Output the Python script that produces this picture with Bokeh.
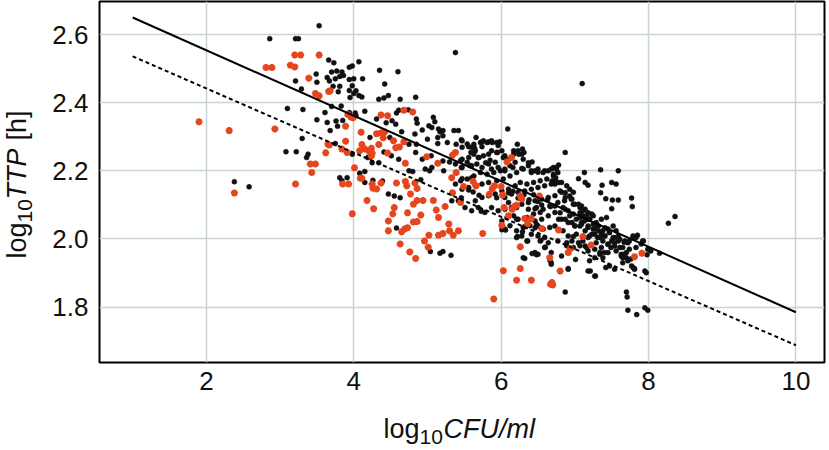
from bokeh.plotting import figure
from bokeh.layouts import row, column
from bokeh.models import Range1d, FixedTicker, Label, ColumnDataSource
from bokeh.embed import file_html
from bokeh.resources import INLINE
import math

# ---------------- data (log10 CFU/ml , log10 TTP [h]) ----------------
black_points = [
    (2.38,2.168),(2.58,2.153),(2.86,2.588),(3.21,2.588),(3.25,2.588),(3.21,2.464),(3.29,2.44),
    (3.10,2.383),(3.31,2.38),(3.30,2.295),(3.08,2.256),(3.22,2.256),(3.53,2.626),(3.66,2.525),
    (3.73,2.517),(4.07,2.52),(3.94,2.504),(3.98,2.508),(4.35,2.495),(4.60,2.491),(3.70,2.49),
    (3.77,2.493),(3.84,2.49),(3.64,2.474),(3.75,2.47),(3.81,2.477),(3.86,2.48),(3.94,2.468),
    (4.00,2.47),(4.12,2.47),(3.49,2.484),(3.50,2.46),(3.67,2.464),(3.72,2.448),(3.81,2.448),
    (3.98,2.45),(4.42,2.455),(4.03,2.435),(3.94,2.436),(3.79,2.432),(3.95,2.415),(4.00,2.427),
    (4.07,2.421),(4.11,2.417),(4.34,2.41),(4.41,2.414),(4.47,2.421),(4.63,2.41),(3.83,2.39),
    (3.70,2.389),(3.61,2.371),(3.94,2.371),(4.02,2.37),(4.03,2.362),(4.15,2.375),(4.31,2.352),
    (4.58,2.37),(4.61,2.378),(4.44,2.341),(4.52,2.347),(4.57,2.337),(4.65,2.315),(3.50,2.35),
    (3.76,2.346),(3.85,2.348),(3.68,2.318),(3.78,2.331),(3.64,2.342),(4.22,2.298),(4.49,2.298),
    (3.75,2.28),(4.41,2.255),(3.38,2.249),(3.36,2.239),(3.81,2.18),(3.84,2.171),(3.91,2.18),
    (4.08,2.193),(4.15,2.198),(4.15,2.166),(4.26,2.172),(4.39,2.17),(4.47,2.132),(4.55,2.126),
    (4.63,2.121),(4.58,2.032),(4.51,2.244),(4.61,2.234),(4.19,2.239),(4.25,2.224),(4.34,2.224),
    (3.98,2.249),
    (5.38,2.547),(4.84,2.416),(4.74,2.379),(4.85,2.352),(4.86,2.34),(5.08,2.357),(5.10,2.344),
    (4.93,2.32),(4.83,2.308),(5.02,2.332),(5.06,2.327),(5.15,2.323),(5.17,2.315),(5.21,2.318),
    (5.36,2.318),(5.42,2.318),(5.14,2.298),(5.21,2.303),(4.75,2.278),(5.00,2.293),(5.14,2.28),
    (5.27,2.283),(5.39,2.278),(5.46,2.291),(5.56,2.271),(5.66,2.298),(5.74,2.285),(5.74,2.271),
    (5.83,2.285),(5.88,2.283),(5.98,2.285),(5.95,2.254),(6.09,2.323),(6.22,2.278),(6.29,2.264),
    (6.31,2.254),(6.17,2.259),(6.24,2.249),(6.37,2.224),(6.42,2.226),(6.05,2.244),(4.85,2.278),
    (5.47,2.269),(5.63,2.278),(5.64,2.266),(4.84,2.254),(4.93,2.234),(5.05,2.244),(5.21,2.229),
    (5.30,2.226),(5.47,2.234),(5.70,2.239),(5.79,2.224),(5.85,2.231),(5.59,2.254),(7.10,2.456),
    (6.87,2.254),(6.78,2.217),
    (4.75,2.2),(4.80,2.198),(4.97,2.205),(5.03,2.2),(5.06,2.21),(5.22,2.2),(5.46,2.21),(5.60,2.215),
    (5.87,2.205),(5.96,2.21),(6.05,2.2),(6.16,2.21),(6.28,2.207),(6.41,2.2),(6.50,2.196),(6.59,2.2),
    (4.91,2.174),(5.47,2.177),(5.60,2.18),(5.56,2.144),(5.62,2.138),(5.70,2.128),(5.46,2.121),
    (5.73,2.081),(6.10,2.136),(6.10,2.107),(6.16,2.14),(6.23,2.12),(6.31,2.13),(6.38,2.115),
    (6.44,2.13),(6.50,2.11),(6.55,2.1),(6.63,2.115),(6.67,2.095),(6.46,2.089),(6.21,2.058),
    (6.32,2.036),(6.46,2.033),(6.50,2.038),(6.29,2.021),(6.22,2.007),(6.36,1.994),(6.50,2.009),
    (6.54,1.996),(6.60,1.976),(6.64,1.989),(6.32,1.943),(6.42,1.957),(6.48,1.954),(6.66,1.938),
    (6.68,1.93),(6.01,2.027),(6.06,2.026),(5.04,1.963),(5.17,1.958),(5.21,1.963),(5.32,1.952),
    (5.94,2.121),
    (7.35,2.203),(7.59,2.2),(7.13,2.195),(7.05,2.177),(7.14,2.166),(7.18,2.158),(7.37,2.158),
    (7.50,2.166),(7.56,2.161),(7.35,2.136),(7.42,2.118),(7.51,2.114),(7.59,2.114),(7.77,2.12),
    (7.78,2.095),(7.50,2.089),(8.27,2.046),(8.36,2.066),(7.85,2.011),(7.93,1.994),(7.79,2.004),
    (7.99,1.97),(7.98,1.954),(8.15,1.958),(7.70,1.96),(7.81,1.913),(7.95,1.906),(7.97,1.901),
    (7.70,1.844),(7.71,1.83),(7.72,1.791),(7.84,1.778),(7.95,1.798),(7.99,1.791),(6.87,1.844),
    (7.28,1.891),(7.21,1.906),(6.91,1.913),(7.01,1.94),(7.42,1.916),(7.63,1.95),(7.65,1.945),
    (6.71,2.21),(6.75,2.205),(6.71,2.19),(6.74,2.18),(6.69,2.17),(6.73,2.161),(6.78,2.166),
    (6.80,2.141),(6.87,2.136),(6.87,2.122),(6.93,2.126),(6.96,2.117),(6.98,2.102),(7.05,2.102),
    (7.09,2.097),(7.14,2.087),(7.18,2.077),(7.23,2.073),(7.25,2.068),(7.07,2.077),(7.11,2.068),
    (7.16,2.058),(7.20,2.058),(7.29,2.048),(7.36,2.058),(7.43,2.063),(7.27,2.029),(7.32,2.024),
    (7.36,2.014),(7.41,2.009),(7.45,2.029),(7.52,2.038),(7.56,2.024),(7.59,2.009),(7.34,2.004),
    (7.38,1.994),(7.29,1.989),(7.14,1.979),(7.18,1.965),(7.27,1.97),(7.34,1.96),(7.36,1.975),
    (7.45,1.984),(7.54,1.989),(7.50,1.994),(7.68,1.994),(7.72,1.989),(7.65,1.975),(7.74,1.97),
    (7.61,1.975),(6.73,2.097),(6.80,2.077),(6.87,2.087),(6.93,2.068),(6.87,2.058),(6.78,2.058),
    (6.73,2.038),(6.84,2.024),(6.91,2.009),(6.98,2.007),(7.02,2.014),(6.96,1.994),(6.89,1.989),
    (7.05,1.989),(7.11,1.994),(7.18,2.004),(7.23,2.014),(7.14,2.024),(7.07,2.038),(7.00,2.038),
    (6.96,2.048),(7.02,2.058),(7.09,2.048),(7.18,2.038),(7.25,2.043),(7.32,2.038),(7.41,2.033),
    (7.47,2.019),(7.52,2.004),(7.59,1.994),(7.54,1.979),(7.45,1.96),(7.38,1.945),(7.47,1.921),
    (7.54,1.911),(7.65,1.93),(7.77,1.921),
    (5.47,2.288),(5.54,2.279),(5.60,2.269),(5.65,2.259),(5.72,2.283),(5.76,2.288),(5.81,2.283),
    (5.87,2.288),(5.94,2.283),(5.96,2.274),(6.01,2.259),(5.94,2.254),(5.87,2.259),(5.83,2.249),
    (5.76,2.244),(5.69,2.239),(5.63,2.249),(5.56,2.239),(5.54,2.225),(5.45,2.230),(5.38,2.220),
    (5.47,2.210),(5.58,2.215),(5.67,2.220),(5.74,2.210),(5.83,2.220),(5.92,2.225),(6.03,2.239),
    (6.10,2.234),(6.17,2.249),(6.23,2.259),(6.28,2.249),(6.30,2.234),(6.19,2.225),(6.12,2.215),
    (6.05,2.205),(5.99,2.200),(5.90,2.195),(5.81,2.190),(5.72,2.195),(5.63,2.185),(5.54,2.176),
    (5.45,2.171),(5.38,2.161),(5.47,2.146),(5.56,2.151),(5.65,2.156),(5.74,2.161),(5.83,2.166),
    (5.94,2.171),(6.03,2.176),(6.12,2.185),(6.21,2.195),(6.30,2.205),(6.37,2.215),(6.41,2.195),
    (6.46,2.200),(6.50,2.205),(6.57,2.195),(6.64,2.200),(6.68,2.205),(6.75,2.210),(6.77,2.195),
    (6.71,2.185),(6.62,2.176),(6.53,2.171),(6.44,2.166),(6.35,2.161),(6.26,2.166),(6.19,2.156),
    (6.10,2.146),(6.01,2.141),(5.92,2.132),(5.83,2.127),(5.74,2.122),(5.65,2.112),(6.05,2.122),
    (6.14,2.132),(6.23,2.137),(6.32,2.141),(6.41,2.146),(6.50,2.151),(6.59,2.156),(6.68,2.161),
    (6.73,2.171),(6.82,2.166),(6.89,2.156),(6.93,2.146),(6.98,2.137),(6.82,2.137),(6.73,2.127),
    (6.64,2.122),(6.55,2.117),(6.46,2.112),(6.37,2.107),(6.28,2.102),(6.21,2.092),(6.37,2.087),
    (6.48,2.092),(6.57,2.087),(6.66,2.097),(6.77,2.107),(6.86,2.112),(6.95,2.117),(7.00,2.102),
    (7.07,2.092),(7.11,2.083),(7.16,2.068),(7.20,2.058),(7.13,2.053),(7.07,2.063),(6.98,2.073),
    (6.91,2.083),(6.84,2.092),(6.73,2.078),(6.64,2.068),(6.55,2.058),(6.46,2.053),(6.82,2.058),
    (6.91,2.048),(7.00,2.039),(7.09,2.043),(7.18,2.034),(7.25,2.029),(7.31,2.039),(7.38,2.024),
    (7.27,2.014),(7.20,2.009),(7.31,2.004),(7.40,2.009),(7.47,2.019),(7.54,2.004),(7.61,1.999),
    (7.67,1.990),(7.74,1.994),(7.79,2.009),(7.83,2.004),(7.92,1.994),(7.45,1.985),(7.49,1.975),
    (7.56,1.965),(7.63,1.955),(7.70,1.945),(7.76,1.941),(7.40,1.960),(7.34,1.955),(7.27,1.945),
    (7.20,1.936),(7.16,1.975),(7.07,1.980),(6.98,1.975),(6.91,1.960),(6.82,1.950),(6.68,1.960),
    (6.59,1.975),(6.50,1.955),(6.46,1.960),(6.30,1.945),(6.28,2.009),(6.21,2.004),(6.35,1.994),
    (6.41,2.014),(6.53,1.994),(6.59,2.004),(6.77,1.994),(6.89,1.980),(6.66,2.034),(6.57,2.029),
    (6.48,2.043),(6.39,2.039),(6.30,2.034),(6.21,2.024),(6.12,2.039),(6.05,2.029),(6.01,2.053),
    (6.08,2.063),(6.17,2.068),(6.23,2.058),(6.35,2.063),(6.44,2.073),(6.53,2.078),(6.14,2.092),
    (6.05,2.087),(5.96,2.083),(5.87,2.092),(5.78,2.078),(5.69,2.092),(5.60,2.083),(5.51,2.092),
    (5.42,2.112),(5.33,2.112),(6.68,1.926),(6.91,1.911),(7.18,1.906),(7.27,1.891),(7.79,1.916),
    (7.81,1.911),(7.67,1.955),(7.72,1.936),(7.83,1.975),(7.90,1.985),(8.03,1.965),
]

orange_points = [
    (1.90,2.344),(2.31,2.318),(2.38,2.135),(2.81,2.503),(2.89,2.503),(3.20,2.54),(3.28,2.54),
    (3.53,2.54),(3.14,2.51),(3.20,2.505),(2.93,2.323),(3.21,2.161),(3.39,2.472),(3.48,2.427),
    (3.53,2.42),(3.66,2.433),(3.68,2.435),(3.92,2.365),(3.96,2.358),(3.99,2.356),(4.37,2.364),
    (4.46,2.362),(3.89,2.331),(4.10,2.313),(4.31,2.309),(4.37,2.311),(4.42,2.314),(4.40,2.297),
    (4.54,2.288),(4.62,2.27),(3.65,2.278),(3.67,2.276),(3.89,2.287),(3.84,2.264),(3.62,2.253),
    (3.91,2.254),(4.11,2.277),(4.08,2.259),(4.15,2.264),(4.21,2.257),(4.24,2.266),(4.25,2.252),
    (4.24,2.244),(4.34,2.277),(4.46,2.252),(4.57,2.268),(3.41,2.22),(3.48,2.22),(3.43,2.195),
    (3.85,2.161),(3.93,2.161),(4.09,2.178),(4.11,2.178),(4.25,2.161),(4.26,2.149),(4.31,2.147),
    (4.37,2.164),(4.01,2.209),(4.58,2.164),(4.18,2.113),(4.27,2.089),(4.55,2.092),(4.53,2.074),
    (3.98,2.074),(4.47,2.053),(4.47,2.024),(4.63,1.985),(4.65,2.021),(4.70,2.169),(4.72,2.156),
    (4.83,2.164),(4.86,2.148),(4.77,2.132),(4.86,2.113),(4.94,2.113),(4.81,2.102),(5.08,2.113),
    (5.24,2.095),(5.12,2.085),(4.73,2.077),(4.91,2.07),(5.15,2.063),(4.81,2.05),(4.86,2.051),
    (4.73,2.033),(4.69,2.029),(5.29,2.044),(5.30,2.024),(5.35,2.011),(5.21,2.016),(5.15,2.011),
    (5.42,2.024),(5.02,2.011),(4.96,1.994),(5.01,1.976),(4.76,1.962),(4.84,1.943),(5.75,2.016),
    (6.01,2.04),(6.03,1.907),(5.90,1.824),(6.26,1.977),(6.26,1.913),(6.21,1.879),(6.41,1.879),
    (6.67,1.867),(6.69,1.872),(6.66,1.945),(5.33,2.18),(5.39,2.195),(5.34,2.136),(5.45,2.107),
    (5.49,2.154),(5.62,2.169),(5.66,2.156),(5.84,2.131),(5.88,2.148),(5.91,2.156),(6.00,2.154),
    (6.02,2.129),(6.04,2.092),(6.10,2.068),(6.15,2.087),(6.18,2.095),(6.21,2.099),(6.26,2.126),
    (6.28,2.117),(6.32,2.06),(6.41,2.06),(6.36,2.045),(6.55,2.031),(6.52,2.126),(4.68,2.378),
    (4.80,2.373),(4.68,2.285),(4.99,2.241),(5.34,2.246),(5.38,2.254),(5.14,2.222),(6.08,2.226),
    (6.14,2.239),(4.70,2.222),(6.78,2.026),(7.11,2.007),(7.22,1.982),(6.94,1.972),(6.91,1.96),
    (6.80,1.906),(6.70,1.865),(7.81,1.948),(7.91,1.958),
]

# regression lines (endpoints in data units)
line_x = [1.0, 10.0]
solid_y = [2.650, 1.785]
dotted_y = [2.536, 1.688]

x_ticks = [2, 4, 6, 8, 10]
x_tick_labels = ["2", "4", "6", "8", "10"]
y_ticks = [1.8, 2.0, 2.2, 2.4, 2.6]
y_tick_labels = ["1.8", "2.0", "2.2", "2.4", "2.6"]

BLACK = "#111111"
ORANGE = "#e5461d"
FONT = "Liberation Sans"
TICK_PX = 26
MAIN, SUB = 27, 21

W, H = 829, 450
YT_W = 49                  # left strip carrying the y title
XT_H = 50                  # bottom strip carrying the x title
FL, FR, FT, FB = 96, 824, 1, 362   # page position of the plotting frame

X0, X1 = 0.55, 10.388
Y0, Y1 = 1.6374, 2.697

# ---------------- main plot ----------------
p = figure(width=W - YT_W, height=H - XT_H, x_range=Range1d(X0, X1), y_range=Range1d(Y0, Y1),
           output_backend="svg", toolbar_location=None,
           min_border_left=0, min_border_right=W - FR, min_border_top=FT,
           min_border_bottom=H - XT_H - FB)
p.background_fill_color = "white"
p.border_fill_color = "white"
p.outline_line_color = "black"
p.outline_line_width = 2

p.xaxis.ticker = FixedTicker(ticks=x_ticks)
p.yaxis.ticker = FixedTicker(ticks=y_ticks)
p.xaxis.major_label_overrides = {t: l for t, l in zip(x_ticks, x_tick_labels)}
p.yaxis.major_label_overrides = {t: l for t, l in zip(y_ticks, y_tick_labels)}
for ax in (p.xaxis, p.yaxis):
    ax.axis_line_color = None
    ax.major_tick_line_color = None
    ax.minor_tick_line_color = None
    ax.major_tick_out = 0
    ax.major_tick_in = 0
    ax.minor_tick_out = 0
    ax.minor_tick_in = 0
    ax.major_label_text_font = FONT
    ax.major_label_text_font_size = f"{TICK_PX}px"
    ax.major_label_text_color = "#111111"
p.xaxis.major_label_standoff = 9
p.yaxis.major_label_standoff = 11

p.grid.grid_line_color = "#c9d3d3"
p.grid.grid_line_width = 1.5

bsrc = ColumnDataSource(dict(x=[a for a, b in black_points], y=[b for a, b in black_points]))
osrc = ColumnDataSource(dict(x=[a for a, b in orange_points], y=[b for a, b in orange_points]))
p.scatter("x", "y", source=bsrc, marker="circle", size=5, fill_color=BLACK, line_color=BLACK, line_width=0.5)
p.scatter("x", "y", source=osrc, marker="asterisk", size=7, line_color=ORANGE, line_width=2.2)

p.line(line_x, solid_y, line_color="black", line_width=2)
p.line(line_x, dotted_y, line_color="black", line_width=2, line_dash="4 3")

# ---------------- title strips: their frames line up with the main frame, data = page pixels ----------------
def strip(width, height, xr, yr, **borders):
    f = figure(width=width, height=height, x_range=xr, y_range=yr, output_backend="svg",
               toolbar_location=None, x_axis_type=None, y_axis_type=None, **borders)
    f.outline_line_color = None
    f.background_fill_color = "white"
    f.border_fill_color = "white"
    return f

# left strip: frame spans page y FT..FB ; data y = H - page y
yt = strip(YT_W, H - XT_H, Range1d(0, YT_W), Range1d(H - FB, H - FT),
           min_border_left=0, min_border_right=0, min_border_top=FT, min_border_bottom=H - XT_H - FB)
# bottom strip: frame spans page x FL..FR, y 400..450 ; data x = page x, data y = H - page y
xt = strip(W, XT_H, Range1d(FL, FR), Range1d(0, XT_H),
           min_border_left=FL, min_border_right=W - FR, min_border_top=0, min_border_bottom=0)

# the label anchor sits about 0.35 em above the glyph baseline
def lab(f, px, py, text, size, italic=False, rotated=False):
    shift = 0.36 * size
    if rotated:
        x, y, angle = px - shift, H - py, math.pi / 2
    else:
        x, y, angle = px, H - (py - shift), 0.0
    f.add_layout(Label(x=x, y=y, text=text, text_font=FONT,
                       text_font_size=f"{size}px", text_font_style="italic" if italic else "normal",
                       text_color="#111111", text_align="left", text_baseline="alphabetic",
                       angle=angle))

# x title: log10 CFU/ml  (baseline positions in page pixels)
lab(xt, 383, 438, "log", MAIN)
lab(xt, 419, 444, "10", SUB)
lab(xt, 443, 438, "CFU/ml", MAIN, italic=True)

# y title: log10 TTP [h] (rotated, reading upward)
lab(yt, 26, 258, "log", MAIN, rotated=True)
lab(yt, 32, 222, "10", SUB, rotated=True)
lab(yt, 26, 199, "TTP", MAIN, italic=True, rotated=True)
lab(yt, 26, 140, "[h]", MAIN, rotated=True)

layout = column(row(yt, p), xt)
open("out.html", "w").write(file_html(layout, INLINE))
